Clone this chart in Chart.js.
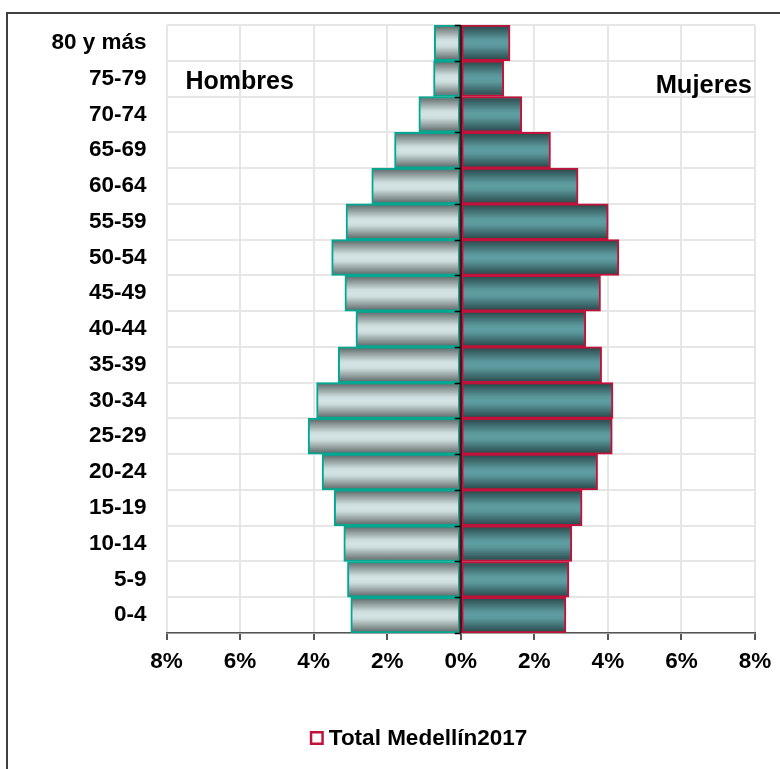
<!DOCTYPE html>
<html>
<head>
<meta charset="utf-8">
<script src="https://cdn.jsdelivr.net/npm/chart.js@4.4.1/dist/chart.umd.min.js"></script>
<style>
  html, body { margin: 0; padding: 0; background: #ffffff; overflow: hidden; }
  #frame { position: absolute; left: 6px; top: 12px; width: 900px; height: 800px;
           border-left: 2px solid #404040; border-top: 2px solid #404040; }
  #c { position: absolute; left: 8px; top: 14px; }
</style>
</head>
<body>
<div id="frame"></div>
<canvas id="c" width="821" height="755"></canvas>
<script>
// ---- data (top row first, as shown) ----
const categories = ['80 y más','75-79','70-74','65-69','60-64','55-59','50-54','45-49','40-44',
                    '35-39','30-34','25-29','20-24','15-19','10-14','5-9','0-4'];
const hombres = [0.72, 0.74, 1.14, 1.80, 2.42, 3.12, 3.51, 3.15, 2.85, 3.33, 3.92, 4.15, 3.77, 3.44, 3.18, 3.08, 2.99];
const mujeres = [1.34, 1.17, 1.66, 2.44, 3.19, 4.01, 4.30, 3.80, 3.40, 3.83, 4.14, 4.12, 3.72, 3.30, 3.02, 2.94, 2.86];
const xTicks = [-8, -6, -4, -2, 0, 2, 4, 6, 8];
const legendLabel = 'Total Medellín2017';
const sideLabels = ['Hombres', 'Mujeres'];

const FONT = '"Liberation Sans", Arial, sans-serif';

function barGradient(ctx, stops) {
  const chart = ctx.chart;
  const area = chart.chartArea;
  if (!area || ctx.dataIndex === undefined) return stops[3][1];
  const ys = chart.scales.y;
  const yc = ys.getPixelForValue(ctx.dataIndex);
  const h = area.height / categories.length;
  const g = chart.ctx.createLinearGradient(0, yc - h / 2, 0, yc + h / 2);
  stops.forEach(s => g.addColorStop(s[0], s[1]));
  return g;
}
const hStops = [[0, '#5a6262'], [0.18, '#8f9b9b'], [0.4, '#cddddd'], [0.5, '#d4e4e4'], [0.6, '#cddddd'], [0.82, '#8f9b9b'], [1, '#5a6262']];
const mStops = [[0, '#284447'], [0.18, '#3e6a6d'], [0.4, '#5a979b'], [0.5, '#5e9da1'], [0.6, '#5a979b'], [0.82, '#3e6a6d'], [1, '#284447']];

const overlay = {
  id: 'overlay',
  afterDatasetsDraw(chart) {
    const c = chart.ctx, a = chart.chartArea;
    const x0 = chart.scales.x.getPixelForValue(0);
    const h = a.height / categories.length;
    c.save();
    // zero axis line
    c.strokeStyle = '#5a0e1d';
    c.lineWidth = 2.5;
    c.beginPath(); c.moveTo(x0, a.top); c.lineTo(x0, a.bottom); c.stroke();
    // category tick marks
    c.strokeStyle = '#000000';
    c.lineWidth = 1.5;
    for (let i = 0; i <= categories.length; i++) {
      const y = Math.round(a.top + i * h) + 0.5;
      c.beginPath(); c.moveTo(x0 - 6, y); c.lineTo(x0, y); c.stroke();
    }
    // side labels
    c.fillStyle = '#000000';
    c.font = 'bold 25px ' + FONT;
    c.textBaseline = 'alphabetic';
    c.textAlign = 'left';
    c.fillText(sideLabels[0], a.left + 19, a.top + 64);
    c.font = 'bold 25.5px ' + FONT;
    c.textAlign = 'right';
    c.fillText(sideLabels[1], a.right - 3, a.top + 68);
    // legend (centered on the canvas)
    c.font = 'bold 22.5px ' + FONT;
    const tw = c.measureText(legendLabel).width;
    const box = 14, gap = 5;
    const total = box + gap + tw;
    const lx = chart.width / 2 - total / 2;
    const ly = a.bottom + 105;
    c.strokeStyle = '#c0123a';
    c.lineWidth = 2.5;
    c.fillStyle = '#ffffff';
    c.fillRect(lx, ly - box / 2, box, box);
    c.strokeRect(lx + 1.25, ly - box / 2 + 1.25, box - 2.5, box - 2.5);
    c.fillStyle = '#000000';
    c.textAlign = 'left';
    c.textBaseline = 'middle';
    c.fillText(legendLabel, lx + box + gap, ly + 1);
    c.restore();
  }
};

new Chart(document.getElementById('c'), {
  type: 'bar',
  data: {
    labels: categories,
    datasets: [
      {
        label: 'Hombres',
        data: hombres.map(v => -v),
        backgroundColor: ctx => barGradient(ctx, hStops),
        borderColor: '#00a892',
        borderWidth: 2,
        borderSkipped: false,
        barPercentage: 1,
        categoryPercentage: 1
      },
      {
        label: 'Mujeres',
        data: mujeres,
        backgroundColor: ctx => barGradient(ctx, mStops),
        borderColor: '#c0123a',
        borderWidth: 2,
        borderSkipped: false,
        barPercentage: 1,
        categoryPercentage: 1
      }
    ]
  },
  options: {
    indexAxis: 'y',
    responsive: false,
    devicePixelRatio: 1,
    animation: false,
    layout: { padding: { left: 0, right: 74, top: 11, bottom: 54 } },
    scales: {
      x: {
        type: 'linear',
        min: -8, max: 8,
        stacked: true,
        afterBuildTicks: s => { s.ticks = xTicks.map(v => ({ value: v })); },
        afterFit: s => { s.height = 82; },
        ticks: {
          callback: v => Math.abs(v) + '%',
          color: '#000000',
          font: { family: FONT, size: 22.5, weight: 'bold' },
          padding: 8,
          maxRotation: 0
        },
        grid: { color: '#e6e6e6', lineWidth: 2, tickColor: '#555555', tickLength: 7, drawTicks: true },
        border: { display: true, color: '#555555', width: 1.5 }
      },
      y: {
        type: 'category',
        stacked: true,
        offset: true,
        afterFit: s => { s.width = 158.5; s.paddingTop = 0; s.paddingBottom = 0; },
        ticks: {
          color: '#000000',
          font: { family: FONT, size: 22.5, weight: 'bold' },
          padding: 20
        },
        grid: { color: '#e6e6e6', lineWidth: 2, offset: true, drawTicks: false },
        border: { display: false }
      }
    },
    plugins: {
      tooltip: { enabled: false },
      legend: { display: false }
    }
  },
  plugins: [overlay]
});
</script>
</body>
</html>
